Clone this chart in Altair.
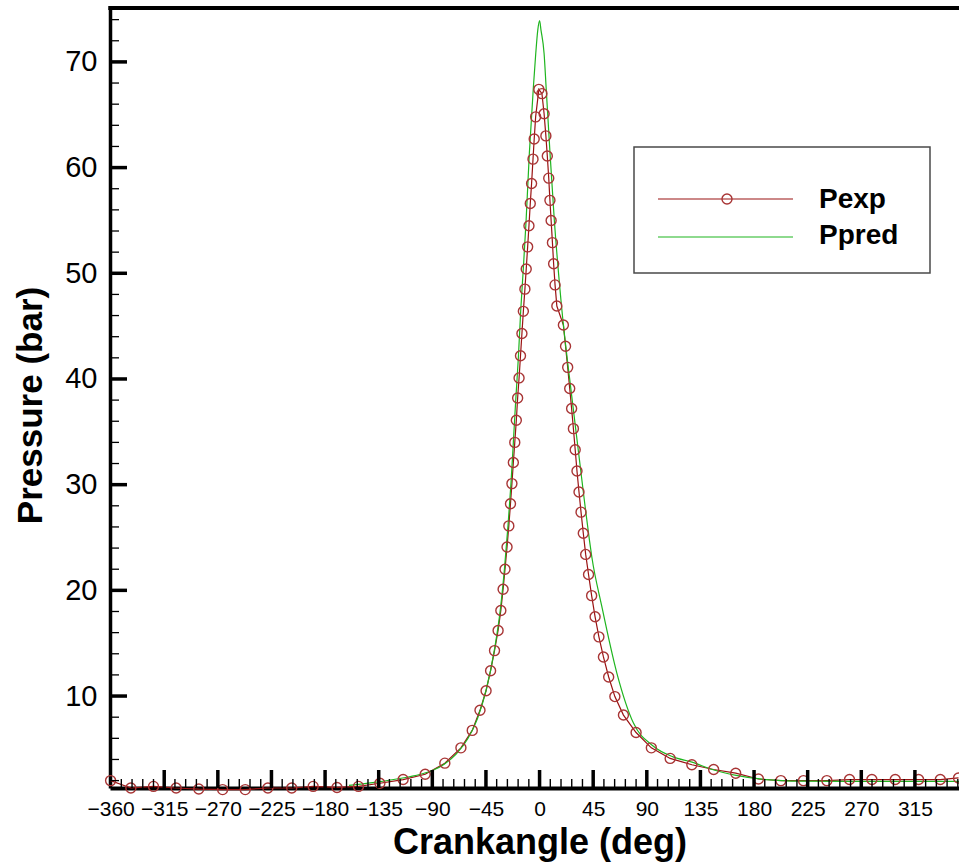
import altair as alt
import pandas as pd

# Measured cylinder pressure (markers + line)
exp_deg = [-360, -343, -324, -305, -286, -266, -247, -228, -208, -190, -170, -152,
           -134, -114.5, -96, -79.5, -66, -56.5, -50, -44.9, -41.1, -37.8, -34.8,
           -32.5, -30.6, -29.0, -27.3, -25.8, -24.4, -23.2, -22.0, -20.8, -19.5,
           -18.4, -17.2, -16.0, -14.8, -13.6, -12.3, -11.2, -10.0, -8.9, -7.8, -6.7,
           -5.5, -4.5, -3.3, -0.6,
           2.0, 3.8, 5.3, 6.5, 7.7, 8.7, 9.7, 10.8, 11.8, 13.0, 14.5, 20.0, 21.8,
           23.6, 25.3, 26.9, 28.4, 29.9, 31.4, 33.1, 34.8, 36.7, 38.7, 41.1, 43.7,
           46.6, 49.8, 53.6, 58.0, 63.2, 70.4, 81.0, 93.8, 109.6, 127.8, 146.1,
           164.6, 183.7, 202.5, 221.5, 241.1, 260.1, 278.9, 298.5, 318.1, 336.3,
           351.6]
exp_bar = [2.0, 1.3, 1.45, 1.3, 1.2, 1.15, 1.15, 1.3, 1.3, 1.45, 1.35, 1.45,
           1.75, 2.1, 2.6, 3.65, 5.1, 6.75, 8.65, 10.5, 12.4, 14.3, 16.2,
           18.1, 20.1, 22.0, 24.1, 26.1, 28.2, 30.1, 32.1, 34.0, 36.1,
           38.2, 40.1, 42.2, 44.3, 46.4, 48.5, 50.4, 52.5, 54.5, 56.6, 58.5,
           60.8, 62.7, 64.8, 67.4,
           67.0, 65.1, 63.0, 61.1, 59.0, 56.9, 55.0, 52.9, 50.9, 48.9, 46.9, 45.1, 43.1,
           41.1, 39.1, 37.2, 35.3, 33.3, 31.3, 29.3, 27.4, 25.4, 23.4, 21.5, 19.5,
           17.5, 15.6, 13.7, 11.8, 9.95, 8.2, 6.55, 5.1, 4.1, 3.5, 3.05,
           2.7, 2.15, 2.0, 2.0, 2.0, 2.1, 2.1, 2.1, 2.1, 2.1,
           2.25]

# Predicted cylinder pressure
pred_deg = [-160, -140, -120, -100, -90, -80, -70, -60, -52, -45, -38, -33, -29.5,
            -26.5, -24, -22, -20, -17.8, -15.8, -13.6, -11.3, -8.6, -5.2, -3.2,
            -1.5, 0, 1.2, 3.8, 5.5, 8.8, 12.4, 18.0, 27.5, 37.6, 41.8, 43.8, 52.2,
            64.8, 78.8, 95, 112, 128, 145, 165, 190, 220, 260, 300, 340, 360]
pred_bar = [1.55, 1.8, 2.15, 2.6, 2.95, 3.55, 4.5, 6.0, 7.9, 10.5, 14.3, 18.1, 22.0,
            26.1, 30.1, 34.0, 38.0, 42.0, 46.5, 50.5, 55.0, 61.3, 67.6, 70.8,
            73.0, 73.9, 73.0, 70.8, 67.6, 61.3, 55.0, 47.4, 37.9, 28.5, 24.8, 23.2, 18.5,
            12.2, 7.44, 5.3, 4.25, 3.75, 3.05, 2.5, 2.1, 1.95, 1.92, 1.92, 1.92, 1.92]

# Axis tick positions
x_major = [-360, -315, -270, -225, -180, -135, -90, -45, 0, 45, 90, 135, 180, 225, 270, 315]
x_minor = [v for v in range(-351, 352, 9) if v % 45 != 0]
y_major = [10, 20, 30, 40, 50, 60, 70]
y_minor = [v for v in range(2, 75, 2) if v % 10 != 0]

legend_labels = ["Pexp", "Ppred"]

W, H = 849, 780
RED_LINE = "#9A1212"
RED_MARK = "#A83535"
GREEN = "#1FB51F"

x_scale = alt.Scale(domain=[-360.5, 352], nice=False, zero=False)
y_scale = alt.Scale(domain=[1.3, 75.1], nice=False, zero=False)

x_axis = alt.Axis(
    values=x_major, ticks=False, grid=False, domain=True, domainWidth=4,
    domainColor="black", labelFont="Liberation Sans", labelFontSize=21,
    labelColor="black", labelPadding=10, title="Crankangle (deg)",
    titleFont="Liberation Sans", titleFontSize=36, titleFontWeight="bold",
    titleColor="black", titleX=429.5, titleY=65, titleBaseline="alphabetic",
    titleAlign="center", labelFlush=False, labelOverlap=False,
)
y_axis = alt.Axis(
    values=y_major, ticks=False, grid=False, domain=True, domainWidth=3.5,
    domainColor="black", labelFont="Liberation Sans", labelFontSize=29,
    labelColor="black", labelPadding=13, title="Pressure (bar)",
    titleFont="Liberation Sans", titleFontSize=35, titleFontWeight="bold",
    titleColor="black", titleX=-69, titleY=397, titleBaseline="alphabetic",
    titleAlign="center", titleAngle=270, labelFlush=False, labelOverlap=False,
)

exp_df = pd.DataFrame({"deg": exp_deg, "bar": exp_bar})
pred_df = pd.DataFrame({"deg": pred_deg, "bar": pred_bar})

X = alt.X("deg:Q", scale=x_scale, axis=x_axis)
Y = alt.Y("bar:Q", scale=y_scale, axis=y_axis)

exp_line = alt.Chart(exp_df).mark_line(color=RED_LINE, strokeWidth=1.2).encode(x=X, y=Y)
pred_line = alt.Chart(pred_df).mark_line(
    color=GREEN, strokeWidth=1.2, interpolate="monotone"
).encode(x=X, y=Y)
exp_pts = alt.Chart(exp_df).mark_point(
    shape="circle", filled=False, size=100, strokeWidth=1.4, color=RED_MARK, opacity=1
).encode(x=X, y=Y)

# Inward ticks
xt = alt.X("v:Q", scale=x_scale, axis=x_axis)
yt = alt.Y("v:Q", scale=y_scale, axis=y_axis)
x_major_ticks = alt.Chart(pd.DataFrame({"v": x_major[1:]})).mark_rule(
    color="black", strokeWidth=3.5).encode(x=xt, y=alt.value(H), y2=alt.value(H - 18))
x_minor_ticks = alt.Chart(pd.DataFrame({"v": x_minor})).mark_rule(
    color="black", strokeWidth=1.4).encode(x=xt, y=alt.value(H), y2=alt.value(H - 9))
y_major_ticks = alt.Chart(pd.DataFrame({"v": y_major})).mark_rule(
    color="black", strokeWidth=3.5).encode(y=yt, x=alt.value(0), x2=alt.value(17))
y_minor_ticks = alt.Chart(pd.DataFrame({"v": y_minor})).mark_rule(
    color="black", strokeWidth=1.3).encode(y=yt, x=alt.value(0), x2=alt.value(9))

# Top frame line
frame = pd.DataFrame({"k": [0]})
top_border = alt.Chart(frame).mark_rule(color="black", strokeWidth=4).encode(
    x=alt.value(-1.75), x2=alt.value(W), y=alt.value(0))

# Legend box
leg_box = alt.Chart(frame).mark_rect(
    fill="white", stroke="#4a4a4a", strokeWidth=1.5).encode(
    x=alt.value(524), x2=alt.value(820), y=alt.value(139), y2=alt.value(265))
leg_exp_line = alt.Chart(frame).mark_rule(color=RED_LINE, strokeWidth=1.2).encode(
    x=alt.value(548), x2=alt.value(683), y=alt.value(191))
leg_exp_pt = alt.Chart(frame).mark_point(
    shape="circle", filled=False, size=100, strokeWidth=1.4, color=RED_MARK, opacity=1).encode(
    x=alt.value(617), y=alt.value(191))
leg_pred_line = alt.Chart(frame).mark_rule(color=GREEN, strokeWidth=1.2).encode(
    x=alt.value(548), x2=alt.value(683), y=alt.value(229))
leg_text = alt.Chart(pd.DataFrame({"label": legend_labels, "ypix": [200, 236]})).mark_text(
    font="Liberation Sans", fontSize=28, fontWeight="bold", color="black",
    align="left", baseline="alphabetic").encode(
    x=alt.value(709), y=alt.Y("ypix:Q", scale=None), text="label:N")

chart = alt.layer(
    exp_line, pred_line, exp_pts,
    x_minor_ticks, x_major_ticks, y_minor_ticks, y_major_ticks, top_border,
    leg_box, leg_exp_line, leg_exp_pt, leg_pred_line, leg_text,
).properties(
    width=W, height=H,
    padding={"left": 110, "top": 8, "right": 0, "bottom": 78},
    autosize=alt.AutoSizeParams(type="none"),
).configure_view(stroke=None).configure(background="white")

chart.save("out.html", embed_options={"renderer": "svg", "actions": False})
